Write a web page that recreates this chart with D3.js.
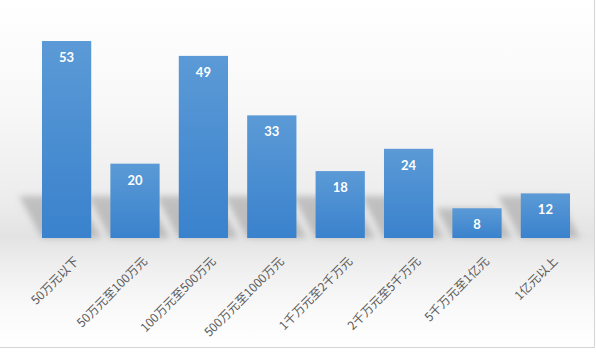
<!DOCTYPE html>
<html lang="zh">
<head>
    <meta charset="UTF-8">
    <title>chart</title>
    <script src="https://d3js.org/d3.v7.min.js"></script>
    <style>
        body { margin: 0; background: #fff; }
        svg { display: block; }
        .cat { font-family: "Noto Sans CJK SC", sans-serif; font-size: 12px; fill: #595959; }
        .val { font-family: Lato, "Open Sans", sans-serif; font-size: 13px; font-weight: bold; fill: #fff; }
    </style>
</head>
<body>
    <svg></svg>
    <script>
        const categories = ['50万元以下', '50万元至100万元', '100万元至500万元', '500万元至1000万元',
                            '1千万元至2千万元', '2千万元至5千万元', '5千万元至1亿元', '1亿元以上'];
        const values = [53, 20, 49, 33, 18, 24, 8, 12];

        const data = categories.map((c, i) => ({ cat: c, value: values[i] }));

        const width = 596, height = 353;

        const svg = d3.select('svg')
            .attr('width', width)
            .attr('height', height);

        const defs = svg.append('defs');

        // background shading, white at the top and a grey floor under the bars
        const bg = defs.append('linearGradient')
            .attr('id', 'bg')
            .attr('x1', 0).attr('y1', 0).attr('x2', 0).attr('y2', 1);
        [[0, '#ffffff'], [0.3, '#f8f8f8'], [0.58, '#ececec'], [0.68, '#e3e3e3'],
         [0.76, '#eeeeee'], [0.88, '#f9f9f9'], [1, '#ffffff']].forEach(s => {
            bg.append('stop').attr('offset', s[0]).attr('stop-color', s[1]);
        });

        const barGrad = defs.append('linearGradient')
            .attr('id', 'barGrad')
            .attr('x1', 0).attr('y1', 0).attr('x2', 0).attr('y2', 1);
        barGrad.append('stop').attr('offset', 0).attr('stop-color', '#5b9ad6');
        barGrad.append('stop').attr('offset', 1).attr('stop-color', '#3a82cd');

        defs.append('filter')
            .attr('id', 'blur')
            .attr('x', '-50%').attr('y', '-50%').attr('width', '200%').attr('height', '200%')
            .append('feGaussianBlur')
            .attr('stdDeviation', 3);

        svg.append('rect')
            .attr('x', 0).attr('y', 0)
            .attr('width', 595).attr('height', 348)
            .attr('fill', 'url(#bg)');

        svg.append('path')
            .attr('d', 'M594.5,0V347.5H0')
            .attr('fill', 'none')
            .attr('stroke', '#d4d4d4');

        const x = d3.scaleBand()
            .domain(categories)
            .range([32.4, 579.6])
            .paddingInner(0.28)
            .paddingOuter(0.14);

        const y = d3.scaleLinear()
            .domain([0, 60])
            .range([238, 15]);

        // soft shadows cast behind the bars
        svg.append('g')
            .attr('filter', 'url(#blur)')
            .selectAll('path')
            .data(data)
            .join('path')
            .attr('fill', '#8a8a8a')
            .attr('opacity', 0.45)
            .attr('d', d => {
                const x0 = x(d.cat), x1 = x0 + x.bandwidth();
                const yb = y(0);
                const h = Math.min(y(0) - y(d.value), 42);
                const s = h * 0.55;
                return `M${x0},${yb}L${x1 + 10},${yb}L${x1 + 10 - s},${yb - h}L${x0 - s},${yb - h}Z`;
            });

        svg.append('g')
            .selectAll('rect')
            .data(data)
            .join('rect')
            .attr('x', d => x(d.cat))
            .attr('y', d => y(d.value))
            .attr('width', x.bandwidth())
            .attr('height', d => y(0) - y(d.value))
            .attr('fill', 'url(#barGrad)');

        svg.append('g')
            .selectAll('text')
            .data(data)
            .join('text')
            .attr('class', 'val')
            .attr('x', d => x(d.cat) + x.bandwidth() / 2)
            .attr('y', d => y(d.value) + 21)
            .attr('text-anchor', 'middle')
            .text(d => d.value);

        svg.append('g')
            .selectAll('text')
            .data(data)
            .join('text')
            .attr('class', 'cat')
            .attr('text-anchor', 'end')
            .attr('dy', '0.35em')
            .attr('transform', d => `translate(${x(d.cat) + x.bandwidth() / 2 + 10},${y(0) + 21}) rotate(-45)`)
            .text(d => d.cat);
    </script>
</body>
</html>
